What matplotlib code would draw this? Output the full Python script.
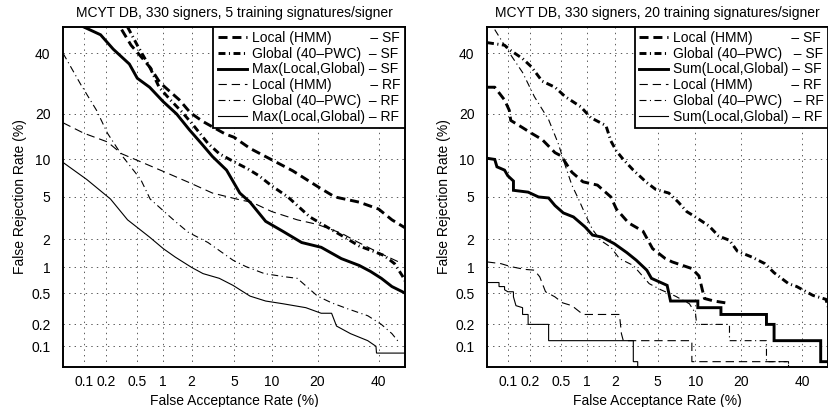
"""DET curves, MCYT DB, 330 signers: 5 vs 20 training signatures."""

from statistics import NormalDist

import matplotlib
matplotlib.use("Agg")
import matplotlib.pyplot as plt
import numpy as np

plt.rcParams["font.family"] = ["Liberation Sans", "DejaVu Sans"]
plt.rcParams["font.size"] = 10
plt.rcParams["lines.scale_dashes"] = False

# ---- data, rates in % -------------------------------------------------
# left panel: 5 training signatures
l5_local_sf_fa = [0.32, 0.42, 0.58, 0.72, 0.92, 1.5, 1.95, 2.6, 4.2, 5.0, 6.8, 14, 20.5, 25, 33, 40, 45, 50]
l5_local_sf_fr = [49, 43, 38, 34.5, 29.5, 24, 20.3, 18, 15, 14.3, 12, 8.2, 6.0, 5.0, 4.5, 3.9, 3.1, 2.6]
l5_global_sf_fa = [0.38, 0.5, 0.7, 0.9, 1.2, 1.6, 2.1, 2.9, 3.7, 5.0, 6.5, 8, 10, 13, 18, 23, 28, 33, 38, 42, 46, 49, 50]
l5_global_sf_fr = [50, 43, 35, 28, 24, 20.5, 17, 13, 11, 9.6, 8.5, 7.5, 6.2, 5.0, 3.3, 2.6, 2.1, 1.7, 1.5, 1.35, 1.1, 0.8, 0.7]
l5_max_sf_fa = [0.1, 0.17, 0.25, 0.4, 0.5, 0.7, 1.0, 1.4, 1.9, 2.5, 3.2, 4.3, 5.6, 6.8, 9, 12, 16, 21, 27, 33, 37, 41, 45, 49, 50]
l5_max_sf_fr = [50, 47, 41.5, 36, 31, 28, 23.5, 20, 16, 13, 10.5, 8.3, 5.4, 4.5, 3.0, 2.4, 1.85, 1.65, 1.25, 1.05, 0.9, 0.75, 0.6, 0.52, 0.5]
l5_local_rf_fa = [0.05, 0.1, 0.21, 0.32, 0.55, 1.05, 1.9, 3.2, 5.7, 7, 10, 15, 20, 27, 32, 40, 49]
l5_local_rf_fr = [17.7, 15.2, 13.3, 11, 9.6, 8, 6.6, 5.4, 4.7, 4.5, 3.7, 3.1, 2.8, 2.3, 1.9, 1.45, 1.1]
l5_global_rf_fa = [0.05, 0.09, 0.15, 0.21, 0.33, 0.55, 0.71, 1.35, 1.85, 2.9, 4.9, 6.3, 8.8, 12.5, 15, 20, 24, 29, 36, 41, 45, 48]
l5_global_rf_fr = [40, 29, 21, 15.2, 10.5, 7, 4.8, 3.0, 2.35, 1.85, 1.2, 1.02, 0.85, 0.78, 0.75, 0.46, 0.38, 0.32, 0.26, 0.2, 0.15, 0.11]
l5_max_rf_fa = [0.05, 0.11, 0.23, 0.38, 0.7, 1.0, 1.35, 2.0, 2.6, 3.7, 4.9, 6.8, 9, 12, 17, 21, 24, 25.5, 30, 36, 39, 39.2, 50]
l5_max_rf_fr = [9.5, 7, 4.8, 3.1, 2.1, 1.6, 1.3, 1.0, 0.85, 0.75, 0.62, 0.46, 0.4, 0.37, 0.33, 0.28, 0.28, 0.19, 0.15, 0.12, 0.1, 0.08, 0.08]

# right panel: 20 training signatures
r20_local_sf_fa = [0.05, 0.065, 0.09, 0.105, 0.11, 0.16, 0.21, 0.29, 0.42, 0.5, 0.67, 0.9, 1.3, 1.8, 2.05, 2.7, 3.7, 4.5, 5.8, 6.6, 8.5, 9.4, 10.6, 11.2, 11.6, 13.5, 16]
r20_local_sf_fr = [28, 28, 24, 21, 18.3, 16.5, 15.2, 13.8, 11.2, 10.6, 8, 6.7, 6.3, 5, 3.9, 2.9, 2.4, 1.6, 1.25, 1.15, 1.02, 0.97, 0.8, 0.55, 0.43, 0.4, 0.38]
r20_global_sf_fa = [0.05, 0.09, 0.11, 0.16, 0.21, 0.29, 0.42, 0.56, 0.85, 1.1, 1.6, 1.8, 2.05, 2.4, 3.0, 4.0, 4.8, 6.2, 7.4, 8.6, 10, 12.5, 14.5, 17, 19, 23, 27, 30, 35, 38, 44, 49, 50]
r20_global_sf_fr = [44, 43, 41, 38, 35, 30, 28, 25, 22, 19, 17, 13.5, 11.5, 10, 8.3, 6.6, 5.8, 5.4, 4.5, 3.7, 3.3, 2.7, 2.15, 1.95, 1.5, 1.3, 1.1, 0.87, 0.65, 0.6, 0.47, 0.42, 0.33]
r20_sum_sf_fa = [0.05, 0.065, 0.07, 0.09, 0.1, 0.12, 0.12, 0.19, 0.26, 0.35, 0.42, 0.53, 0.7, 0.95, 1.15, 1.45, 1.95, 2.6, 3.2, 4.0, 4.4, 6.0, 6.4, 10.4, 10.4, 15, 15, 27.5, 27.5, 30, 30, 47, 47, 50]
r20_sum_sf_fr = [10.2, 10, 8.8, 8.3, 7.5, 6.8, 5.7, 5.5, 5.0, 4.9, 4.2, 3.6, 3.3, 2.65, 2.2, 2.1, 1.8, 1.45, 1.2, 0.93, 0.75, 0.62, 0.4, 0.4, 0.33, 0.33, 0.27, 0.27, 0.2, 0.2, 0.12, 0.12, 0.06, 0.06]
r20_local_rf_fa = [0.05, 0.08, 0.11, 0.17, 0.23, 0.27, 0.32, 0.42, 0.52, 0.67, 0.9, 1.3, 2.2, 2.3, 2.4, 9.4, 9.4, 35, 35]
r20_local_rf_fr = [1.15, 1.1, 1.02, 0.95, 0.93, 0.78, 0.52, 0.45, 0.38, 0.35, 0.27, 0.27, 0.27, 0.15, 0.12, 0.12, 0.06, 0.06, 0.04]
r20_global_rf_fa = [0.065, 0.1, 0.16, 0.23, 0.35, 0.46, 0.56, 0.67, 0.8, 1.0, 1.15, 1.4, 1.8, 2.2, 3.0, 4.2, 5.3, 7.0, 9.0, 10, 10.2, 11.5, 17, 17, 27.5, 27.5, 35, 35]
r20_global_rf_fr = [49, 41, 33, 25, 18.5, 13, 9, 6.3, 4.8, 3.2, 2.5, 1.95, 1.65, 1.25, 1.05, 0.65, 0.55, 0.46, 0.37, 0.28, 0.2, 0.2, 0.2, 0.12, 0.12, 0.06, 0.06, 0.04]
r20_sum_rf_fa = [0.05, 0.075, 0.075, 0.09, 0.09, 0.1, 0.12, 0.12, 0.13, 0.16, 0.16, 0.19, 0.19, 0.35, 0.35, 3.0, 3.0, 3.3, 3.3]
r20_sum_rf_fr = [0.67, 0.67, 0.6, 0.6, 0.55, 0.52, 0.52, 0.45, 0.35, 0.33, 0.27, 0.27, 0.2, 0.2, 0.12, 0.12, 0.06, 0.06, 0.04]

tick_vals = [0.1, 0.2, 0.5, 1, 2, 5, 10, 20, 40]
tick_labels = ["0.1", "0.2", "0.5", "1", "2", "5", "10", "20", "40"]
axis_lim = (0.05, 50)

titles = [
    "MCYT DB, 330 signers, 5 training signatures/signer",
    "MCYT DB, 330 signers, 20 training signatures/signer",
]
names_left = ["Local (HMM)", "Global (40\u2013PWC)", "Max(Local,Global)"]
names_right = ["Local (HMM)", "Global (40\u2013PWC)", "Sum(Local,Global)"]

# ---- normal deviate scale ---------------------------------------------
_nd = NormalDist()
_ppf = np.vectorize(lambda p: _nd.inv_cdf(min(max(p / 100.0, 1e-9), 1 - 1e-9)), otypes=[float])
_cdf = np.vectorize(lambda z: 100.0 * _nd.cdf(z), otypes=[float])

THICK, THIN = 2.1, 0.8
styles = [
    dict(lw=THICK, ls=(0, (6.5, 3.5))),
    dict(lw=THICK, ls=(0, (5.0, 2.5, 0.8, 2.5))),
    dict(lw=THICK, ls="-"),
    dict(lw=THIN, ls=(0, (6.0, 3.5))),
    dict(lw=THIN, ls=(0, (5.0, 2.5, 0.8, 2.5))),
    dict(lw=THIN, ls="-"),
]


def padded_labels(names, renderer, fontsize=10):
    from matplotlib.font_manager import FontProperties

    fp = FontProperties(family=["Liberation Sans", "DejaVu Sans"], size=fontsize)

    def width(s):
        return renderer.get_text_width_height_descent(s, fp, ismath=False)[0]

    out = []
    for suffix in ("\u2013 SF", "\u2013 RF"):
        target = max(width(n + " " + suffix) for n in names)
        for n in names:
            best = min(range(1, 40), key=lambda k: abs(width(n + " " * k + suffix) - target))
            out.append(n + " " * best + suffix)
    return out


def draw_panel(ax, curves, title, names, renderer):
    ax.set_xscale("function", functions=(_ppf, _cdf))
    ax.set_yscale("function", functions=(_ppf, _cdf))
    handles = []
    for (fa, fr), st in zip(curves, styles):
        (h,) = ax.plot(fa, fr, color="black", solid_joinstyle="miter", **st)
        handles.append(h)
    ax.set_xlim(*axis_lim)
    ax.set_ylim(*axis_lim)
    ax.set_xticks(tick_vals, tick_labels)
    ax.set_yticks(tick_vals, tick_labels)
    ax.tick_params(length=0)
    ax.tick_params(axis="x", pad=6)
    ax.tick_params(axis="y", pad=9)
    ax.grid(True, color="0.35", ls=(0, (1, 3)), lw=0.7)
    for sp in ax.spines.values():
        sp.set_linewidth(1.4)
    ax.set_title(title, fontsize=10, pad=7)
    ax.set_xlabel("False Acceptance Rate (%)", labelpad=3)
    ax.set_ylabel("False Rejection Rate (%)", labelpad=3)
    leg = ax.legend(
        handles, padded_labels(names, renderer),
        loc="upper right", bbox_to_anchor=(1, 1), borderaxespad=0,
        fancybox=False, framealpha=1, edgecolor="black",
        borderpad=0.3, labelspacing=0.12, handlelength=2.1, handletextpad=0.4,
    )
    leg.get_frame().set_linewidth(1.3)


fig = plt.figure(figsize=(8.29, 4.07), dpi=100)
renderer = fig.canvas.get_renderer()
ax1 = fig.add_axes([63 / 829, 1 - 367 / 407, 342 / 829, 340 / 407])
ax2 = fig.add_axes([487 / 829, 1 - 367 / 407, 341.5 / 829, 340 / 407])

left_curves = [
    (l5_local_sf_fa, l5_local_sf_fr), (l5_global_sf_fa, l5_global_sf_fr), (l5_max_sf_fa, l5_max_sf_fr),
    (l5_local_rf_fa, l5_local_rf_fr), (l5_global_rf_fa, l5_global_rf_fr), (l5_max_rf_fa, l5_max_rf_fr),
]
right_curves = [
    (r20_local_sf_fa, r20_local_sf_fr), (r20_global_sf_fa, r20_global_sf_fr), (r20_sum_sf_fa, r20_sum_sf_fr),
    (r20_local_rf_fa, r20_local_rf_fr), (r20_global_rf_fa, r20_global_rf_fr), (r20_sum_rf_fa, r20_sum_rf_fr),
]

draw_panel(ax1, left_curves, titles[0], names_left, renderer)
draw_panel(ax2, right_curves, titles[1], names_right, renderer)

fig.savefig("out.png", dpi=100)
